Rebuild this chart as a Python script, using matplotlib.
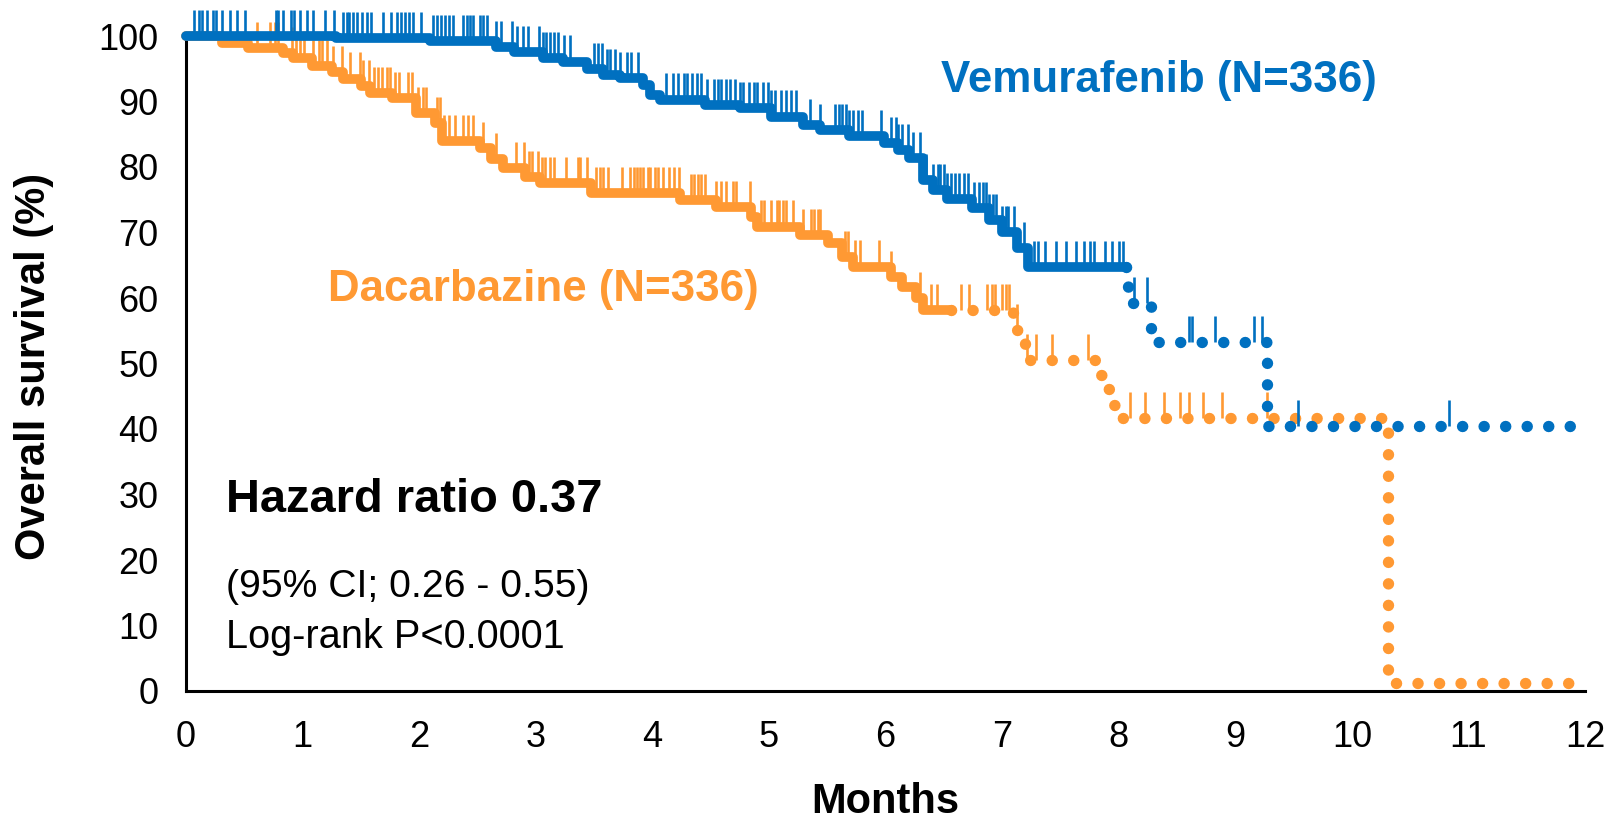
import numpy as np
import matplotlib
matplotlib.use("Agg")
import matplotlib.pyplot as plt

plt.rcParams['font.family'] = ['Liberation Sans', 'DejaVu Sans']

W, H = 1618, 819
blue = '#0070C0'
orange = '#FF9933'

# Kaplan-Meier steps: month of each drop, % alive after it
vem_times = [0, 1.29, 2.09, 2.66, 2.81, 3.06, 3.23, 3.44, 3.58, 3.72, 3.92, 3.98,
             4.07, 4.45, 4.75, 5.02, 5.29, 5.44, 5.69, 5.99, 6.11, 6.20, 6.32,
             6.41, 6.53, 6.74, 6.89, 7.00, 7.13, 7.22, 8.08, 8.28, 9.27]
vem_surv = [100, 99.7, 99.2, 98.3, 97.6, 96.6, 96.1, 95.0, 94.0, 93.6, 92.5, 91.0,
            90.3, 89.5, 89.0, 87.7, 86.4, 85.6, 84.7, 83.7, 82.6, 81.4, 78.0,
            76.5, 75.1, 73.7, 71.9, 70.1, 67.6, 64.7, 59.2, 53.3, 40.5]
vem_end = 12.05
vem_dotted_from = 8.06

dac_times = [0, 0.31, 0.53, 0.83, 0.92, 1.08, 1.25, 1.35, 1.50, 1.58, 1.77, 1.97,
             2.14, 2.20, 2.52, 2.62, 2.72, 2.91, 3.04, 3.47, 4.24, 4.55, 4.85,
             4.90, 5.27, 5.51, 5.63, 5.72, 6.05, 6.14, 6.26, 6.32, 7.09, 7.20,
             7.80, 7.87, 7.93, 8.00, 10.31]
dac_surv = [100, 98.9, 98.1, 97.4, 96.7, 95.4, 94.5, 93.5, 92.3, 91.3, 90.5, 88.2,
            86.7, 83.9, 82.9, 81.2, 79.8, 78.5, 77.5, 76.0, 75.0, 73.9, 72.4,
            70.9, 69.6, 68.4, 66.3, 64.8, 63.2, 61.7, 60.0, 58.2, 55.1, 50.5,
            48.2, 46.1, 43.7, 41.7, 1.2]
dac_end = 11.9
dac_dotted_from = 6.56

# censored patients (months)
vem_censor = [0.07, 0.11, 0.14, 0.18, 0.23, 0.26, 0.31, 0.38, 0.44, 0.51, 0.77, 0.79,
              0.83, 0.90, 0.93, 0.98, 1.04, 1.09, 1.19, 1.27, 1.35, 1.38, 1.40, 1.43,
              1.47, 1.51, 1.55, 1.59, 1.69, 1.76, 1.81, 1.84, 1.88, 1.91, 1.95, 2.02,
              2.12, 2.15, 2.19, 2.22, 2.26, 2.29, 2.38, 2.41, 2.44, 2.46, 2.52, 2.55,
              2.58, 2.66, 2.70, 2.80, 2.84, 2.89, 2.93, 3.03, 3.06, 3.09, 3.12, 3.16,
              3.19, 3.24, 3.29, 3.50, 3.53, 3.57, 3.61, 3.64, 3.68, 3.72, 3.78, 3.82,
              3.88, 4.12, 4.18, 4.22, 4.27, 4.30, 4.34, 4.38, 4.42, 4.47, 4.53, 4.56,
              4.59, 4.63, 4.67, 4.71, 4.75, 4.78, 4.83, 4.87, 4.90, 4.95, 4.99, 5.02,
              5.05, 5.10, 5.15, 5.19, 5.23, 5.35, 5.44, 5.57, 5.60, 5.63, 5.66, 5.69,
              5.72, 5.76, 5.80, 5.96, 6.05, 6.09, 6.11, 6.14, 6.19, 6.24, 6.30, 6.35,
              6.41, 6.45, 6.47, 6.50, 6.53, 6.56, 6.60, 6.63, 6.67, 6.71, 6.76, 6.80,
              6.84, 6.86, 6.89, 6.92, 6.95, 7.00, 7.03, 7.05, 7.10, 7.19, 7.27, 7.31,
              7.37, 7.46, 7.55, 7.63, 7.70, 7.75, 7.79, 7.88, 7.94, 8.00, 8.04, 8.13,
              8.24, 8.60, 8.63, 8.83, 9.16, 9.23, 9.54, 10.83]
dac_censor = [0.61, 0.72, 0.76, 0.79, 0.91, 0.94, 0.98, 1.01, 1.09, 1.14, 1.17, 1.21,
              1.26, 1.34, 1.41, 1.49, 1.52, 1.57, 1.61, 1.65, 1.68, 1.72, 1.75, 1.79,
              1.83, 1.90, 1.94, 1.99, 2.03, 2.06, 2.15, 2.18, 2.21, 2.26, 2.31, 2.38,
              2.42, 2.46, 2.55, 2.66, 2.83, 2.90, 2.94, 2.97, 3.02, 3.05, 3.08, 3.12,
              3.16, 3.26, 3.36, 3.38, 3.44, 3.52, 3.55, 3.58, 3.62, 3.74, 3.81, 3.84,
              3.87, 3.89, 3.92, 3.96, 3.98, 4.02, 4.05, 4.09, 4.14, 4.19, 4.23, 4.33,
              4.36, 4.39, 4.42, 4.45, 4.55, 4.59, 4.63, 4.69, 4.72, 4.84, 4.93, 4.96,
              5.02, 5.07, 5.09, 5.12, 5.15, 5.21, 5.29, 5.36, 5.39, 5.42, 5.44, 5.65,
              5.68, 5.74, 5.78, 5.94, 6.05, 6.30, 6.39, 6.44, 6.65, 6.72, 6.87, 6.91,
              6.94, 7.00, 7.03, 7.06, 7.13, 7.21, 7.29, 7.43, 7.74, 8.10, 8.23, 8.39,
              8.53, 8.60, 8.72, 8.89, 9.27]

x_ticks = list(range(0, 13))
y_ticks = list(range(0, 101, 10))


def level(times, surv, t):
    idx = np.searchsorted(np.asarray(times), t, side='right') - 1
    return np.asarray(surv)[idx]


def step_part(times, surv, t0, t1):
    times = np.asarray(times)
    inner = times[(times > t0) & (times < t1)]
    xs = np.concatenate([[t0], inner, [t1]])
    return xs, level(times, surv, xs)


def draw_arm(ax, times, surv, end, dotted_from, censor, color):
    xs, ys = step_part(times, surv, 0, dotted_from)
    ax.plot(xs, ys, drawstyle='steps-post', color=color, lw=7,
            solid_joinstyle='round', solid_capstyle='round', clip_on=False, zorder=3)
    # dotted tail: round dots about 11 px wide, 22 px apart
    xs, ys = step_part(times, surv, dotted_from, end)
    ax.plot(xs, ys, drawstyle='steps-post', color=color, lw=8.2,
            linestyle=(0, (0.01, 1.88)), dash_capstyle='round', clip_on=False, zorder=3)
    c = np.asarray(censor)
    base = level(times, surv, c)
    ax.vlines(c, base, base + 4.0, color=color, lw=1.9, clip_on=False, zorder=3)


fig = plt.figure(figsize=(W / 100, H / 100), dpi=100)
ax = fig.add_axes([186 / W, 1 - 691 / H, 1399 / W, 655 / H])

draw_arm(ax, dac_times, dac_surv, dac_end, dac_dotted_from, dac_censor, orange)
draw_arm(ax, vem_times, vem_surv, vem_end, vem_dotted_from, vem_censor, blue)

ax.set_xlim(0, 12)
ax.set_ylim(0, 100)
ax.set_xticks(x_ticks)
ax.set_yticks(y_ticks)
ax.tick_params(axis='both', length=0, labelsize=26)
ax.tick_params(axis='x', pad=21)
ax.tick_params(axis='y', pad=20)
for s in ['top', 'right']:
    ax.spines[s].set_visible(False)
for s in ['left', 'bottom']:
    ax.spines[s].set_linewidth(2.2)
    ax.spines[s].set_color('black')


def px(x, y):
    return x / W, 1 - y / H


fig.text(*px(34, 366), 'Overall survival (%)', rotation=90, ha='center', va='center',
         fontsize=30, fontweight='bold')
fig.text(*px(885, 813), 'Months', ha='center', va='baseline', fontsize=30, fontweight='bold')

fig.text(*px(941, 92), 'Vemurafenib (N=336)', ha='left', va='baseline',
         fontsize=31.6, fontweight='bold', color=blue)
fig.text(*px(328, 301), 'Dacarbazine (N=336)', ha='left', va='baseline',
         fontsize=31.6, fontweight='bold', color=orange)
fig.text(*px(226, 512), 'Hazard ratio 0.37', ha='left', va='baseline',
         fontsize=33.8, fontweight='bold')
fig.text(*px(226, 597), '(95% CI; 0.26 - 0.55)', ha='left', va='baseline', fontsize=28.2)
fig.text(*px(226, 648), 'Log-rank P<0.0001', ha='left', va='baseline', fontsize=28.6)

fig.savefig('out.png', dpi=100)
